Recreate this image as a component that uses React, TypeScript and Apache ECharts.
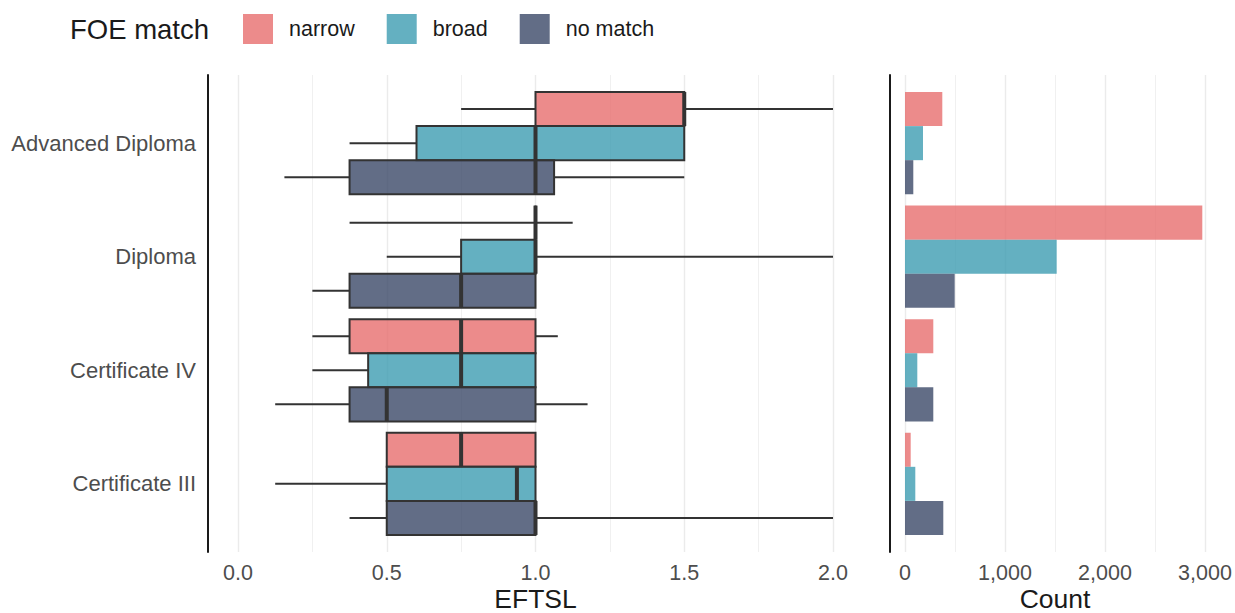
import React, { useEffect, useRef } from "react";
import * as echarts from "echarts";

const categories = ["Advanced Diploma", "Diploma", "Certificate IV", "Certificate III"];
const groupNames = ["narrow", "broad", "no match"];
const groupColors = ["rgba(231,110,110,0.8)", "rgba(61,156,177,0.8)", "rgba(59,72,104,0.8)"];

// [q1, median, q3, whiskerLow, whiskerHigh] per category
const narrowBox = [
  [1.0, 1.5, 1.5, 0.75, 2.0],
  [1.0, 1.0, 1.0, 0.375, 1.125],
  [0.375, 0.75, 1.0, 0.25, 1.075],
  [0.5, 0.75, 1.0, 0.5, 1.0],
];
const broadBox = [
  [0.6, 1.0, 1.5, 0.375, 1.5],
  [0.75, 1.0, 1.0, 0.5, 2.0],
  [0.4375, 0.75, 1.0, 0.25, 1.0],
  [0.5, 0.9375, 1.0, 0.125, 1.0],
];
const noMatchBox = [
  [0.375, 1.0, 1.0625, 0.156, 1.5],
  [0.375, 0.75, 1.0, 0.25, 1.0],
  [0.375, 0.5, 1.0, 0.125, 1.175],
  [0.5, 1.0, 1.0, 0.375, 2.0],
];

const narrowCount = [373, 2973, 283, 57];
const broadCount = [180, 1517, 123, 103];
const noMatchCount = [83, 497, 283, 383];

const eftslTicks = [0, 0.5, 1.0, 1.5, 2.0];
const countTicks = [0, 1000, 2000, 3000];

const FONT = "'Liberation Sans', Arial, sans-serif";
const DARK = "#333333";

export default function App() {
  const ref = useRef<HTMLDivElement>(null);
  useEffect(() => {
    if (!ref.current) return;
    const chart = echarts.init(ref.current, null, { renderer: "svg" });
    const boxes = [narrowBox, broadBox, noMatchBox];
    const counts = [narrowCount, broadCount, noMatchCount];
    const dodge = 0.3;
    const half = 0.15;

    const series: any[] = [];
    groupNames.forEach((name, gi) => {
      const off = (gi - 1) * dodge;
      const color = groupColors[gi];
      series.push({
        type: "custom",
        name,
        xAxisIndex: 0,
        yAxisIndex: 0,
        itemStyle: { color },
        encode: { x: [1, 2, 3, 4, 5], y: 0 },
        data: boxes[gi].map((b, j) => [j + 1, ...b]),
        renderItem: (params: any, api: any) => {
          const yc = api.value(0) + off;
          const q1 = api.value(1), med = api.value(2), q3 = api.value(3);
          const lo = api.value(4), hi = api.value(5);
          const a = api.coord([q1, yc - half]);
          const b = api.coord([q3, yc + half]);
          const c = api.coord([med, yc]);
          const l = api.coord([lo, yc]);
          const h = api.coord([hi, yc]);
          const top = Math.min(a[1], b[1]);
          const bot = Math.max(a[1], b[1]);
          return {
            type: "group",
            children: [
              { type: "line", shape: { x1: l[0], y1: c[1], x2: a[0], y2: c[1] }, style: { stroke: DARK, lineWidth: 2 } },
              { type: "line", shape: { x1: b[0], y1: c[1], x2: h[0], y2: c[1] }, style: { stroke: DARK, lineWidth: 2 } },
              { type: "rect", shape: { x: a[0], y: top, width: b[0] - a[0], height: bot - top }, style: { fill: color, stroke: DARK, lineWidth: 2 } },
              { type: "line", shape: { x1: c[0], y1: top, x2: c[0], y2: bot }, style: { stroke: DARK, lineWidth: 4 } },
            ],
          };
        },
      });
      series.push({
        type: "custom",
        name,
        xAxisIndex: 1,
        yAxisIndex: 1,
        itemStyle: { color },
        encode: { x: 1, y: 0 },
        data: counts[gi].map((v, j) => [j + 1, v]),
        renderItem: (params: any, api: any) => {
          const yc = api.value(0) + off;
          const p0 = api.coord([0, yc - half]);
          const p1 = api.coord([api.value(1), yc + half]);
          const top = Math.min(p0[1], p1[1]);
          const bot = Math.max(p0[1], p1[1]);
          return {
            type: "rect",
            shape: { x: p0[0], y: top, width: p1[0] - p0[0], height: bot - top },
            style: { fill: color },
          };
        },
      });
    });

    const xCommon = {
      type: "value",
      nameLocation: "middle",
      nameGap: 34,
      nameMoveOverlap: false,
      nameTextStyle: { fontSize: 26.5, lineHeight: 26, color: "#1a1a1a", fontFamily: FONT },
      axisLine: { show: false },
      axisTick: { show: false },
      splitLine: { show: true, lineStyle: { color: "#EBEBEB", width: 1.4 } },
      minorTick: { show: false, splitNumber: 2 },
      minorSplitLine: { show: true, lineStyle: { color: "#F0F0F0", width: 1 } },
    };
    const yCommon = {
      type: "value",
      min: 0.4,
      max: 4.6,
      inverse: true,
      axisLine: { show: true, onZero: false, lineStyle: { color: "#1a1a1a", width: 2 } },
      axisTick: { show: false },
      splitLine: { show: false },
    };

    chart.setOption({
      animation: false,
      textStyle: { fontFamily: FONT },
      title: {
        text: "FOE match",
        left: 70,
        top: 15,
        padding: 0,
        textStyle: { fontSize: 27.5, fontWeight: "normal", color: "#1a1a1a", fontFamily: FONT },
      },
      legend: {
        left: 243,
        top: 14,
        padding: 0,
        itemWidth: 30,
        itemHeight: 30,
        itemGap: 32,
        icon: "rect",
        textStyle: { fontSize: 21.5, color: "#1a1a1a", fontFamily: FONT, padding: [0, 0, 0, 11] },
        data: groupNames.map((n, i) => ({ name: n, itemStyle: { color: groupColors[i] } })),
      },
      grid: [
        { left: 238, top: 75, width: 595, height: 477, outerBoundsMode: "none", containLabel: false },
        { left: 905, top: 75, width: 300, height: 477, outerBoundsMode: "none", containLabel: false },
      ],
      xAxis: [
        {
          ...xCommon,
          gridIndex: 0,
          min: eftslTicks[0],
          max: eftslTicks[eftslTicks.length - 1],
          interval: 0.5,
          name: "EFTSL",
          axisLabel: { fontSize: 21.5, lineHeight: 22, color: "#4d4d4d", margin: 10, fontFamily: FONT, formatter: (v: number) => v.toFixed(1) },
        },
        {
          ...xCommon,
          gridIndex: 1,
          min: countTicks[0],
          max: countTicks[countTicks.length - 1],
          interval: 1000,
          name: "Count",
          axisLabel: { fontSize: 21.5, lineHeight: 22, color: "#4d4d4d", margin: 10, fontFamily: FONT, formatter: (v: number) => v.toLocaleString("en-US") },
        },
      ],
      yAxis: [
        {
          ...yCommon,
          gridIndex: 0,
          offset: 30,
          axisLabel: {
            customValues: [1, 2, 3, 4],
            formatter: (v: number) => categories[Math.round(v) - 1] ?? "",
            fontSize: 22,
            color: "#4d4d4d",
            margin: 12,
            fontFamily: FONT,
          },
        },
        {
          ...yCommon,
          gridIndex: 1,
          offset: 15,
          axisLabel: { show: false },
        },
      ],
      series,
    });
    return () => chart.dispose();
  }, []);
  return (
    <div
      ref={ref}
      style={{ position: "fixed", left: 0, top: 0, width: 1235, height: 613, background: "#fff" }}
    />
  );
}
